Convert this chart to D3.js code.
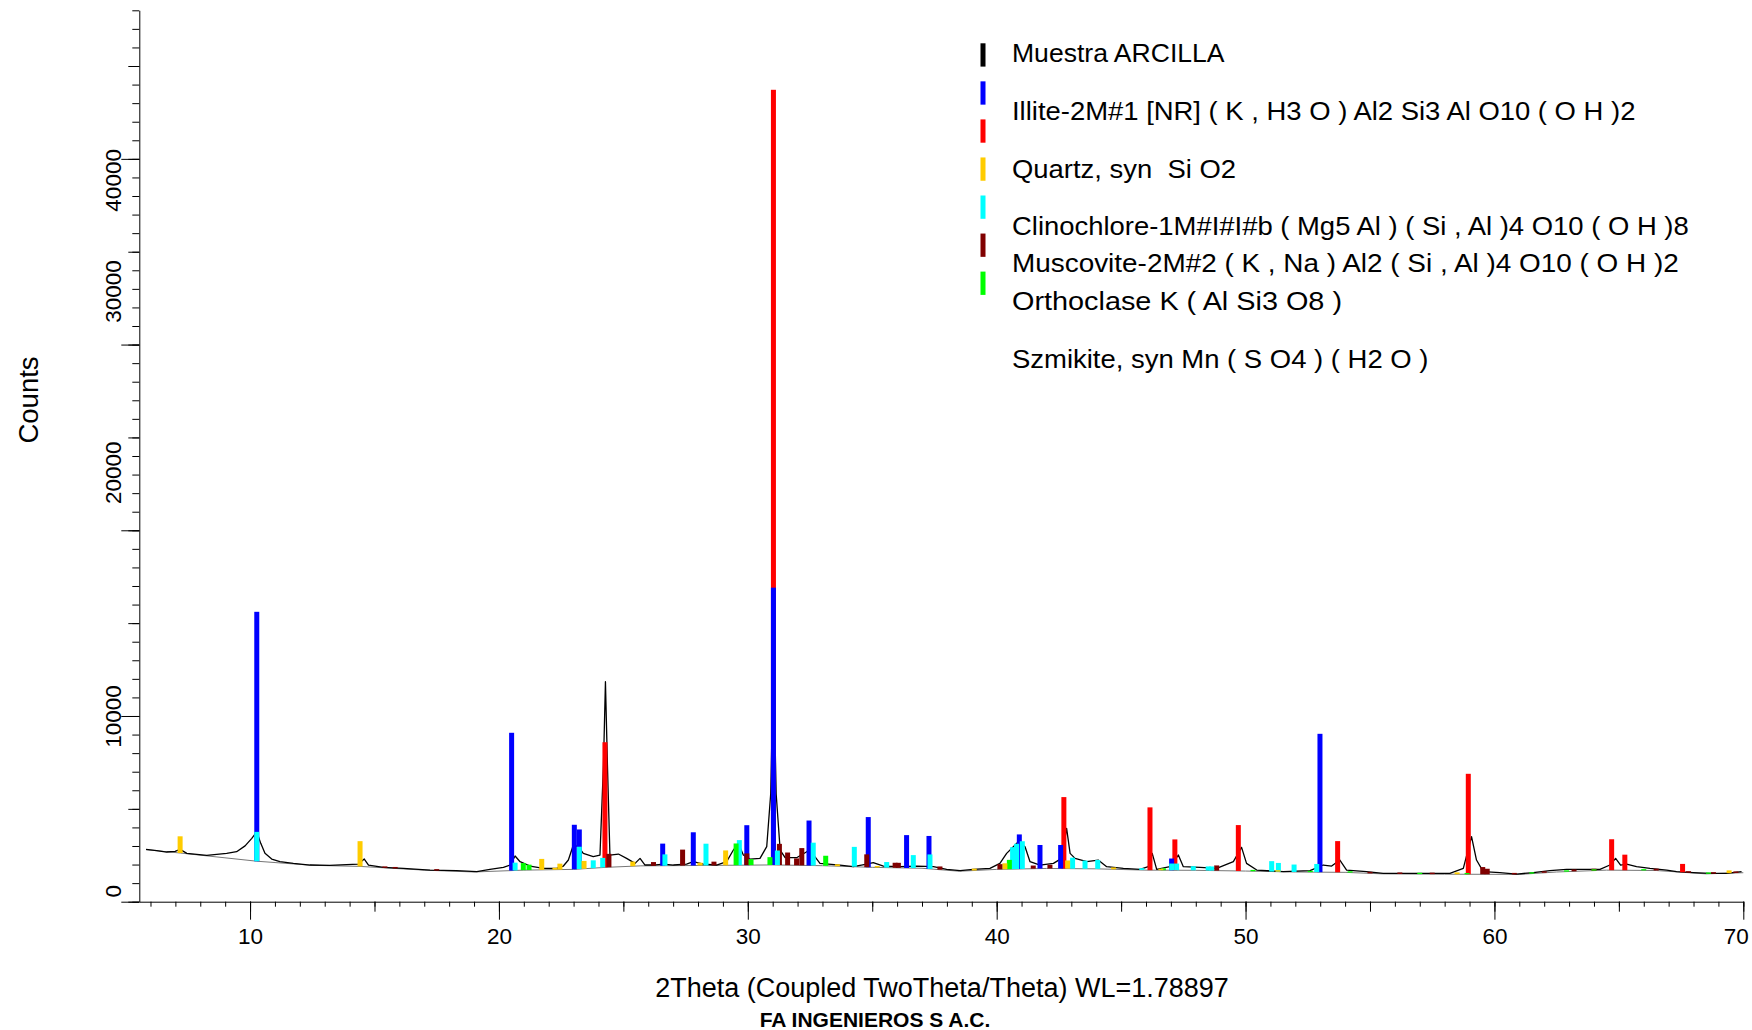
<!DOCTYPE html>
<html>
<head>
<meta charset="utf-8">
<script src="https://cdn.jsdelivr.net/npm/d3@7"></script>
<style>
  html, body { margin: 0; padding: 0; background: #fff; overflow: hidden; }
  svg { display: block; }
  text { font-family: "Liberation Sans", Arial, sans-serif; fill: #000; white-space: pre; }
  .tick text { font-size: 22.5px; }
  .tick line, .domain { stroke: #000; }
</style>
</head>
<body>
<svg id="chart" width="1752" height="1030"></svg>
<script>
// measured pattern, [2theta, counts]
const pattern = [
  [5.82, 2818], [6.25, 2746], [6.65, 2675], [6.99, 2710], [7.19, 2818], [7.46, 2603],
  [7.86, 2549], [8.26, 2495], [8.66, 2549], [9.06, 2603], [9.46, 2693], [9.8, 3005],
  [10.07, 3410], [10.27, 3770], [10.43, 3141], [10.6, 2603], [10.87, 2298], [11.2, 2154],
  [11.74, 2064], [12.41, 1975], [13.2, 1957], [13.88, 1993], [14.35, 2028], [14.59, 2298],
  [14.76, 1975], [15.36, 1849], [16.16, 1795], [17.23, 1705], [18.3, 1669], [19.11, 1616],
  [19.64, 1741], [20.18, 1849], [20.45, 1975], [20.65, 2459], [20.85, 2154], [21.25, 1921],
  [21.79, 1795], [22.32, 1795], [22.59, 1921], [22.79, 2244], [22.99, 3051], [23.19, 2962],
  [23.39, 2603], [23.79, 2423], [24.06, 2513], [24.2, 7360], [24.28, 11847], [24.36, 7360],
  [24.46, 2513], [24.8, 2567], [25.13, 2334], [25.47, 2064], [25.67, 2334], [25.87, 1975],
  [26.2, 1975], [26.61, 2028], [27.01, 1975], [27.54, 2028], [27.81, 2154], [28.21, 2028],
  [28.75, 1975], [29.15, 2154], [29.42, 2782], [29.62, 3141], [29.82, 2513], [30.09, 2298],
  [30.49, 2334], [30.76, 2962], [30.92, 5800], [30.97, 9000], [31.03, 38000], [31.09, 9000],
  [31.14, 5800], [31.3, 2782],
  [31.5, 2370], [31.96, 2370], [32.37, 2693], [32.5, 2782], [32.9, 2064], [33.7, 1975],
  [34.24, 1885], [34.78, 2028], [35.04, 2100], [35.45, 1921], [36.12, 1885], [36.79, 1921],
  [37.46, 1885], [37.99, 1741], [38.53, 1669], [39.06, 1741], [39.73, 1795], [40.13, 2064],
  [40.4, 2603], [40.67, 2962], [40.87, 3231], [41.14, 2962], [41.34, 2154], [41.74, 1975],
  [42.28, 2064], [42.61, 2334], [42.81, 3949], [42.95, 2603], [43.15, 2334], [43.62, 2154],
  [44.08, 2244], [44.42, 1885], [45.09, 1795], [45.76, 1741], [46.09, 1885], [46.25, 2603],
  [46.43, 1741], [46.96, 1885], [47.3, 2513], [47.5, 1885], [48.17, 1849], [48.84, 1795],
  [49.51, 2154], [49.84, 2926], [50.04, 2064], [50.45, 1705], [51.52, 1616], [52.59, 1669],
  [53.12, 1975], [53.46, 1921], [53.79, 2244], [54.06, 1705], [54.86, 1616], [55.53, 1526],
  [56.87, 1526], [58.21, 1526], [58.75, 1795], [59.08, 3500], [59.28, 2244], [59.55, 1616],
  [60.22, 1562], [60.89, 1490], [61.56, 1562], [62.23, 1669], [62.9, 1741], [63.57, 1741],
  [64.24, 1741], [64.64, 1975], [64.87, 2334], [65.07, 1975], [65.31, 2028], [65.71, 1885],
  [66.25, 1795], [66.92, 1705], [67.32, 1617], [67.99, 1562], [68.66, 1526], [69.33, 1526],
  [69.93, 1617]
];

const background = [
  [5.82, 2800], [7.2, 2620], [10.27, 2180], [12.5, 1960], [14.42, 1900], [17, 1700],
  [19, 1600], [21, 1700], [23, 1740], [24.3, 1850], [25.7, 1930], [28, 1950], [31, 1980],
  [33, 1940], [35, 1850], [37, 1800], [38.5, 1640], [40, 1740], [42, 1790], [44, 1770],
  [46, 1700], [48, 1690], [50, 1650], [52, 1600], [54, 1580], [55.5, 1500], [58, 1480],
  [61, 1470], [62.5, 1600], [64.5, 1700], [66.5, 1680], [68.5, 1500], [70, 1560]
];

// reference sticks, [2theta, height above background]
const illite = [
  [10.27, 13430], [20.51, 7420], [23.03, 2400], [23.23, 2130], [26.58, 1190], [27.81, 1790],
  [29.96, 2150], [31.03, 14930], [32.46, 2420], [34.84, 2700], [36.38, 1770], [37.28, 1770],
  [40.91, 1860], [41.74, 1270], [42.57, 1270], [47.03, 630], [52.99, 7450]
];
const quartz = [
  [24.26, 6740], [31.03, 41740], [42.7, 3850], [46.16, 3380], [47.16, 1660], [49.71, 2470],
  [53.7, 1680], [58.95, 5410], [64.71, 1665], [65.24, 840], [67.56, 450]
];
const clinochlore = [
  [7.19, 900], [14.42, 1360], [21.72, 590], [22.25, 100], [22.45, 320], [23.42, 420],
  [25.38, 250], [28.08, 150], [29.11, 800], [33.6, 100], [35.2, 80], [39.1, 100],
  [40.33, 320], [42.85, 440], [44.7, 100], [46.6, 80], [51.3, 80], [58.5, 100], [69.43, 150]
];
const muscovite = [
  [10.27, 1580], [20.65, 420], [23.23, 1200], [23.79, 420], [24.17, 520], [26.67, 610],
  [28.32, 1170], [29.66, 1350], [31.19, 780], [32.63, 1230], [34.28, 1070], [35.58, 300],
  [36.65, 700], [37.32, 780], [40.64, 1180], [40.8, 1360], [41.03, 1490], [43.05, 590],
  [43.55, 440], [44.06, 480], [45.83, 100], [47.03, 360], [47.23, 360], [47.9, 220],
  [48.5, 220], [48.64, 220], [51.05, 560], [51.32, 470], [51.95, 400], [52.86, 440]
];
const orthoclase = [
  [15.42, 80], [15.83, 80], [17.5, 80], [24.42, 720], [26.21, 200], [27.38, 860],
  [28.64, 200], [29.96, 630], [31.27, 1140], [31.6, 680], [31.96, 370], [32.17, 930],
  [34.78, 690], [35.92, 270], [36.05, 270], [37.72, 175], [40.13, 280], [41.47, 170],
  [42.14, 200], [48.84, 280], [55.0, 80], [56.2, 80], [57.5, 80], [59.53, 390], [59.71, 300],
  [60.8, 80], [62.0, 80], [63.2, 100], [64.0, 100], [66.5, 100], [67.8, 80], [68.8, 80], [69.7, 80]
];
const szmikite = [
  [20.98, 380], [21.21, 290], [29.53, 1170], [30.13, 320], [30.89, 420], [33.13, 540],
  [40.51, 500], [46.7, 100], [50.3, 70], [52.6, 70], [54.2, 70], [57.0, 70], [58.9, 70],
  [61.5, 70], [62.9, 70], [64.0, 70], [66.0, 70], [68.6, 70]
];

const legendNames = [
  "Muestra ARCILLA",
  "Illite-2M#1 [NR] ( K , H3 O ) Al2 Si3 Al O10 ( O H )2",
  "Quartz, syn  Si O2",
  "Clinochlore-1M#I#I#b ( Mg5 Al ) ( Si , Al )4 O10 ( O H )8",
  "Muscovite-2M#2 ( K , Na ) Al2 ( Si , Al )4 O10 ( O H )2",
  "Orthoclase K ( Al Si3 O8 )",
  "Szmikite, syn Mn ( S O4 ) ( H2 O )"
];
const legendColors = ["#000000", "#0000ff", "#ff0000", "#ffcc00", "#00ffff", "#800000", "#00ff00"];
const stickSets = [illite, quartz, clinochlore, muscovite, orthoclase, szmikite];

const xMinorTicks = d3.range(6, 71, 1);
const xMidTicks = d3.range(10, 71, 5);
const xMajorTicks = d3.range(10, 71, 10);
const yMinorTicks = d3.range(0, 48001, 1000);
const yMidTicks = d3.range(0, 48001, 5000);
const yMajorTicks = d3.range(0, 48001, 10000);

// layout
const legendTextY = [61.7, 120, 178.3, 235, 271.7, 310, 368.3];
const legendTextW = [212.5, 623.4, 224, 676.7, 666.7, 330, 416.4];
const yLabelShift = { 0: -11, 10000: 0, 20000: -58, 30000: -53.5, 40000: 21 };

const svg = d3.select("#chart");
const x = d3.scaleLinear().domain([5.55, 70]).range([139.3, 1743.3]);
const y = d3.scaleLinear().domain([0, 48000]).range([901.7, 10.3]);

// background + pattern
const line = d3.line().x(d => x(d[0])).y(d => y(d[1]));
svg.append("path").datum(background)
  .attr("d", line).attr("fill", "none").attr("stroke", "#777").attr("stroke-width", 1);
svg.append("path").datum(pattern)
  .attr("d", line).attr("fill", "none").attr("stroke", "#000").attr("stroke-width", 1.3)
  .attr("stroke-linejoin", "round");

// sticks rise from the background; tall ones first so short ones stay visible
const bisect = d3.bisector(d => d[0]).left;
function bgAt(t) {
  const i = Math.max(1, Math.min(background.length - 1, bisect(background, t)));
  const a = background[i - 1], b = background[i];
  return a[1] + (b[1] - a[1]) * (t - a[0]) / (b[0] - a[0]);
}
const sticks = [];
stickSets.forEach((set, k) => set.forEach(p => sticks.push({ t: p[0], h: p[1], color: legendColors[k + 1] })));
sticks.sort((a, b) => b.h - a.h);

svg.append("g").selectAll("rect").data(sticks).join("rect")
  .attr("x", d => x(d.t) - 2.5)
  .attr("width", 5)
  .attr("y", d => y(bgAt(d.t) + d.h))
  .attr("height", d => y(bgAt(d.t)) - y(bgAt(d.t) + d.h))
  .attr("fill", d => d.color);

// x axis
function xLayer(vals, size, withLabels) {
  return svg.append("g").attr("transform", `translate(0,${y(0)})`)
    .call(d3.axisBottom(x).tickValues(vals).tickSize(size).tickSizeOuter(0).tickPadding(8)
      .tickFormat(withLabels ? d3.format("d") : ""));
}
xLayer(xMinorTicks, 5, false);
xLayer(xMidTicks, 10, false).select(".domain").remove();
const xMaj = xLayer(xMajorTicks, 18, true);
xMaj.select(".domain").remove();
// last label would run off the right edge
xMaj.selectAll(".tick text").filter(d => d === 70)
  .attr("text-anchor", "end").attr("x", 5);

// y axis
function yLayer(vals, size, withLabels) {
  return svg.append("g").attr("transform", `translate(${x(5.55)},0)`)
    .call(d3.axisLeft(y).tickValues(vals).tickSize(size).tickSizeOuter(0)
      .tickFormat(withLabels ? d3.format("d") : ""));
}
yLayer(yMinorTicks, 7, false);
yLayer(yMidTicks, 11, false).select(".domain").remove();
const yMaj = yLayer(yMajorTicks, 18, true);
yMaj.select(".domain").remove();
yMaj.selectAll(".tick text")
  .attr("x", null).attr("dy", null)
  .attr("text-anchor", "middle")
  .attr("transform", d => `translate(-18,${yLabelShift[d]}) rotate(-90)`);

// titles
svg.append("text").attr("x", 942).attr("y", 997).attr("text-anchor", "middle")
  .attr("font-size", 27).text("2Theta (Coupled TwoTheta/Theta) WL=1.78897");
svg.append("text").attr("x", 875).attr("y", 1026.5).attr("text-anchor", "middle")
  .attr("font-size", 21).attr("font-weight", "bold").text("FA INGENIEROS S A.C.");
svg.append("text").attr("transform", "translate(38,400) rotate(-90)").attr("text-anchor", "middle")
  .attr("font-size", 27.5).text("Counts");

// legend
const legend = svg.append("g");
legend.selectAll("rect").data(legendColors).join("rect")
  .attr("x", 980.5).attr("y", (d, i) => 43.3 + i * 38.05)
  .attr("width", 5).attr("height", 23.3).attr("fill", d => d);
legend.selectAll("text").data(legendNames).join("text")
  .attr("x", 1012).attr("y", (d, i) => legendTextY[i])
  .attr("font-size", 26.5)
  .attr("textLength", (d, i) => legendTextW[i]).attr("lengthAdjust", "spacingAndGlyphs")
  .text(d => d);
</script>
</body>
</html>
